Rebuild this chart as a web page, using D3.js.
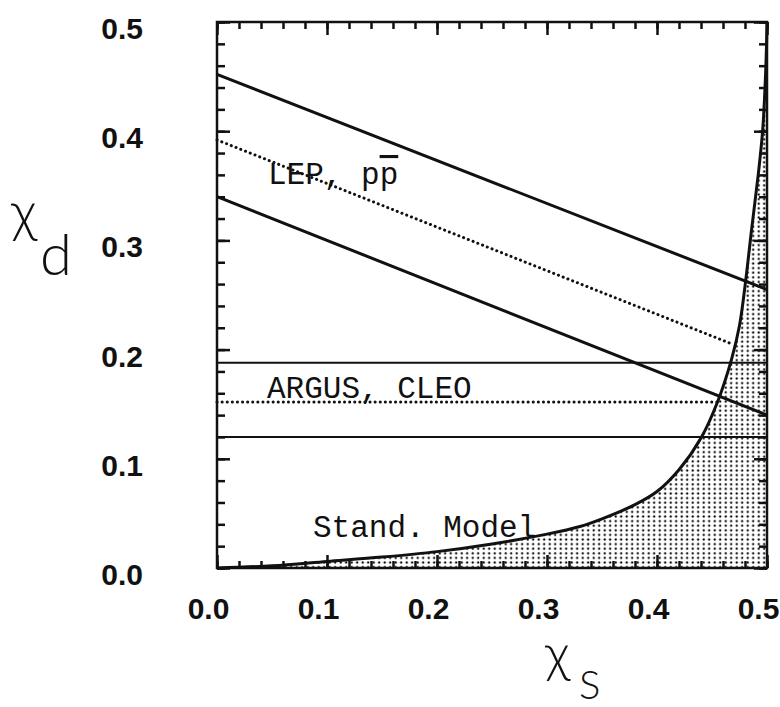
<!DOCTYPE html>
<html>
<head>
<meta charset="utf-8">
<script src="https://cdn.jsdelivr.net/npm/d3@7"></script>
<style>
  body { margin: 0; background: #fff; }
  .tick text { font-family: "Liberation Sans", Arial, sans-serif; font-weight: bold; font-size: 30px; fill: #111; }
  .lbl { font-family: "Liberation Mono", monospace; font-size: 31px; fill: #111; }
  .ttl { font-family: Lato, "DejaVu Sans", sans-serif; font-weight: 300; fill: #111; }
</style>
</head>
<body>
<div id="chart"></div>
<script>
// chi_s (x) / chi_d (y) values
var majorTicks = [0, 0.1, 0.2, 0.3, 0.4, 0.5];
var tickLabels = ['0.0', '0.1', '0.2', '0.3', '0.4', '0.5'];
var minorTicks = d3.range(0, 0.501, 0.02);

// LEP, p pbar band (upper, central, lower)
var lepUpper = [[0, 0.452], [0.5, 0.255]];
var lepCentral = [[0, 0.392], [0.466, 0.206]];
var lepLower = [[0, 0.34], [0.5, 0.14]];

// ARGUS, CLEO band
var argusUpper = [[0, 0.188], [0.5, 0.188]];
var argusCentral = [[0, 0.152], [0.457, 0.152]];
var argusLower = [[0, 0.12], [0.5, 0.12]];

// Standard Model curve
var smX = [0, 0.05, 0.1, 0.15, 0.2, 0.25, 0.3, 0.33, 0.35, 0.38, 0.4, 0.42, 0.44, 0.455, 0.468, 0.475, 0.48, 0.486, 0.492, 0.496, 0.499, 0.5];
var smY = [0, 0.002, 0.006, 0.01, 0.015, 0.022, 0.031, 0.038, 0.045, 0.058, 0.07, 0.09, 0.119, 0.152, 0.192, 0.222, 0.258, 0.31, 0.36, 0.40, 0.46, 0.5];
var smCurve = smX.map(function(d, i) { return [d, smY[i]]; });

var W = 780, H = 707;
var margin = { top: 22, right: 13, bottom: 139, left: 217 };
var width = W - margin.left - margin.right,
    height = H - margin.top - margin.bottom;

var svg = d3.select('#chart')
  .append('svg')
    .attr('width', W)
    .attr('height', H);

var defs = svg.append('defs');
var pat = defs.append('pattern')
    .attr('id', 'dots')
    .attr('patternUnits', 'userSpaceOnUse')
    .attr('width', 5.5)
    .attr('height', 4.6);
pat.append('circle')
    .attr('cx', 2.7).attr('cy', 2.3).attr('r', 1.2)
    .attr('fill', '#111');

var g = svg.append('g')
    .attr('transform', 'translate(' + margin.left + ',' + margin.top + ')');

var x = d3.scaleLinear().domain([0, 0.5]).range([0, width]);
var y = d3.scaleLinear().domain([0, 0.5]).range([height, 0]);

var smooth = d3.curveCatmullRom.alpha(0.5);

// shaded SM region
var area = d3.area()
    .x(function(d) { return x(d[0]); })
    .y0(y(0))
    .y1(function(d) { return y(d[1]); })
    .curve(smooth);
g.append('path')
    .datum(smCurve)
    .attr('d', area)
    .attr('fill', 'url(#dots)');

var line = d3.line()
    .x(function(d) { return x(d[0]); })
    .y(function(d) { return y(d[1]); });

g.append('path')
    .datum(smCurve)
    .attr('d', line.curve(smooth))
    .attr('fill', 'none')
    .attr('stroke', '#111')
    .attr('stroke-width', 3);
line.curve(d3.curveLinear);

function drawLine(data, w, dotted) {
  var p = g.append('path')
    .datum(data)
    .attr('d', line)
    .attr('fill', 'none')
    .attr('stroke', '#111')
    .attr('stroke-width', w);
  if (dotted) {
    p.attr('stroke-dasharray', '0.1,5').attr('stroke-linecap', 'round');
  }
}
drawLine(lepUpper, 3);
drawLine(lepLower, 3);
drawLine(lepCentral, 3, true);
drawLine(argusUpper, 2);
drawLine(argusLower, 2);
drawLine(argusCentral, 3, true);

// axes, ticks pointing inward on all four sides
function fmt(d) { return tickLabels[majorTicks.indexOf(d)]; }

g.append('g').attr('transform', 'translate(0,' + height + ')')
  .call(d3.axisBottom(x).tickValues(minorTicks).tickSize(-7).tickFormat(''));
g.append('g').attr('transform', 'translate(0,' + height + ')')
  .call(d3.axisBottom(x).tickValues(majorTicks).tickSize(-13).tickPadding(30).tickFormat(fmt))
  .selectAll('text').attr('dx', -9);
g.append('g')
  .call(d3.axisTop(x).tickValues(minorTicks).tickSize(-7).tickFormat(''));
g.append('g')
  .call(d3.axisTop(x).tickValues(majorTicks).tickSize(-13).tickFormat(''));

g.append('g')
  .call(d3.axisLeft(y).tickValues(minorTicks).tickSize(-8).tickFormat(''));
g.append('g')
  .call(d3.axisLeft(y).tickValues(majorTicks).tickSize(-13).tickPadding(74).tickFormat(fmt))
  .selectAll('text').attr('dy', '0.55em');
g.append('g').attr('transform', 'translate(' + width + ',0)')
  .call(d3.axisRight(y).tickValues(minorTicks).tickSize(-8).tickFormat(''));
g.append('g').attr('transform', 'translate(' + width + ',0)')
  .call(d3.axisRight(y).tickValues(majorTicks).tickSize(-13).tickFormat(''));

g.selectAll('.domain').remove();
g.selectAll('.tick line').attr('stroke', '#111').attr('stroke-width', 2.5);

g.append('rect')
    .attr('width', width)
    .attr('height', height)
    .attr('fill', 'none')
    .attr('stroke', '#111')
    .attr('stroke-width', 2.5);

// in-plot labels
var lep = g.append('text').attr('class', 'lbl')
    .attr('x', 268 - margin.left).attr('y', 184 - margin.top);
lep.append('tspan').text('LEP, p');
lep.append('tspan').attr('text-decoration', 'overline').text('p');

g.append('text').attr('class', 'lbl')
    .attr('x', 267 - margin.left).attr('y', 398 - margin.top)
    .text('ARGUS, CLEO');

g.append('text').attr('class', 'lbl')
    .attr('x', 313 - margin.left).attr('y', 537 - margin.top)
    .text('Stand. Model');

// axis titles
svg.append('text').attr('class', 'ttl')
    .attr('x', 11).attr('y', 231).attr('font-size', 56).text('χ');
svg.append('text').attr('class', 'ttl')
    .attr('x', 40).attr('y', 275).attr('font-size', 58).text('d');

svg.append('text').attr('class', 'ttl')
    .attr('x', 545).attr('y', 672).attr('font-size', 54).text('χ');
svg.append('text').attr('class', 'ttl')
    .attr('x', 579).attr('y', 699).attr('font-size', 40).text('S');
</script>
</body>
</html>
